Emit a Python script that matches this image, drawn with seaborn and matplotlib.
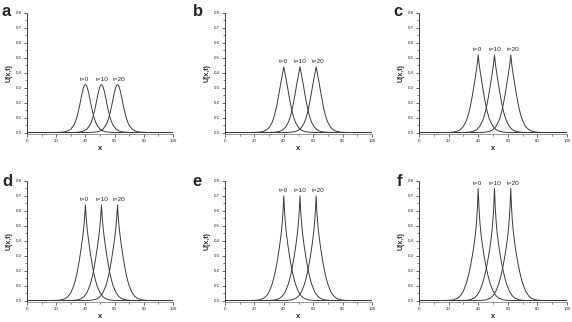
import matplotlib
matplotlib.use('Agg')
import matplotlib.pyplot as plt
from matplotlib.ticker import MultipleLocator
import pandas as pd
import seaborn as sns

# half-profile offsets from each peak (x units) and the read-off U values per panel
offsets = [0, 0.5, 1, 1.5, 2, 3, 4, 5, 6, 7, 8, 10, 12, 14, 17, 20, 25, 30, 40, 62]
profile_a = [0.320, 0.3168, 0.3075, 0.2928, 0.2738, 0.2277, 0.1789, 0.1344, 0.0976, 0.0692,
             0.0482, 0.0226, 0.0104, 0.0047, 0.0014, 0.0004, 0.0001, 0.0, 0.0, 0.0]
profile_b = [0.440, 0.4119, 0.3865, 0.3609, 0.3341, 0.2774, 0.2209, 0.1698, 0.1270, 0.0929,
             0.0669, 0.0333, 0.0158, 0.0072, 0.0021, 0.0006, 0.0001, 0.0, 0.0, 0.0]
profile_c = [0.520, 0.4708, 0.4323, 0.3984, 0.3663, 0.3037, 0.2442, 0.1906, 0.1451, 0.1083,
             0.0795, 0.0408, 0.0198, 0.0090, 0.0025, 0.0006, 0.0001, 0.0, 0.0, 0.0]
profile_d = [0.640, 0.5597, 0.5019, 0.4557, 0.4156, 0.3442, 0.2797, 0.2221, 0.1726, 0.1315,
             0.0983, 0.0520, 0.0257, 0.0117, 0.0032, 0.0007, 0.0001, 0.0, 0.0, 0.0]
profile_e = [0.700, 0.5982, 0.5275, 0.4738, 0.4296, 0.3554, 0.2911, 0.2342, 0.1845, 0.1425,
             0.1079, 0.0582, 0.0290, 0.0133, 0.0036, 0.0008, 0.0001, 0.0, 0.0, 0.0]
profile_f = [0.750, 0.6271, 0.5439, 0.4833, 0.4355, 0.3599, 0.2972, 0.2421, 0.1934, 0.1514,
             0.1159, 0.0636, 0.0320, 0.0146, 0.0039, 0.0008, 0.0001, 0.0, 0.0, 0.0]
profiles = [profile_a, profile_b, profile_c, profile_d, profile_e, profile_f]
panel_letters = ['a', 'b', 'c', 'd', 'e', 'f']
centers = [40, 51, 62]
time_labels = ['t=0', 't=10', 't=20']
label_x = [39.5, 51.5, 63.5]

sns.set_style('ticks')
plt.rcParams['font.family'] = ['Liberation Sans', 'DejaVu Sans']

fig = plt.figure(figsize=(5.72, 3.22), dpi=100)
lefts = [27, 225, 419]
widths = [146, 147, 148]
tops = [13, 181]
bottoms = [134, 302]
letter_x = [[2, 193, 393], [2, 192, 397]]
letter_y = [16, 186]

for i, prof in enumerate(profiles):
    row, col = divmod(i, 3)
    l = lefts[col] / 572
    w = widths[col] / 572
    b = 1 - bottoms[row] / 322
    h = (bottoms[row] - tops[row]) / 322
    ax = fig.add_axes([l, b, w, h])
    rows = []
    for c, lab in zip(centers, time_labels):
        xs = [c - o for o in offsets[:0:-1]] + [c + o for o in offsets]
        ys = prof[:0:-1] + prof
        for x, y in zip(xs, ys):
            rows.append({'x': x, 'U': y, 't': lab})
    df = pd.DataFrame(rows)
    for lab in time_labels:
        sns.lineplot(data=df[df['t'] == lab], x='x', y='U', estimator=None,
                     color='#3a3a3a', lw=0.7, ax=ax)
    peak = prof[0]
    for lx, lab in zip(label_x, time_labels):
        ax.text(lx, peak + 0.018, lab, ha='center', va='bottom', fontsize=4.6)
    ax.set_xlim(0, 100)
    ax.set_ylim(-0.01, 0.8)
    ax.xaxis.set_major_locator(MultipleLocator(20))
    ax.xaxis.set_minor_locator(MultipleLocator(10))
    ax.yaxis.set_major_locator(MultipleLocator(0.1))
    ax.yaxis.set_minor_locator(MultipleLocator(0.05))
    ax.yaxis.set_major_formatter(plt.FormatStrFormatter('%.1f'))
    ax.tick_params(which='major', length=2, width=0.5, labelsize=3.2, pad=1.5)
    ax.tick_params(which='minor', length=1.2, width=0.4)
    sns.despine(ax=ax)
    for s in ['left', 'bottom']:
        ax.spines[s].set_linewidth(0.6)
    ax.spines['bottom'].set_color('#888888')
    ax.set_xlabel('x', fontsize=5.5, fontweight='bold', labelpad=1.5)
    ax.set_ylabel('U(x,t)', fontsize=5, fontweight='bold', labelpad=2.5)
    fig.text(letter_x[row][col] / 572, 1 - letter_y[row] / 322, panel_letters[i],
             fontsize=12, fontweight='bold', ha='left', va='baseline')

fig.savefig('out.png', dpi=100)
